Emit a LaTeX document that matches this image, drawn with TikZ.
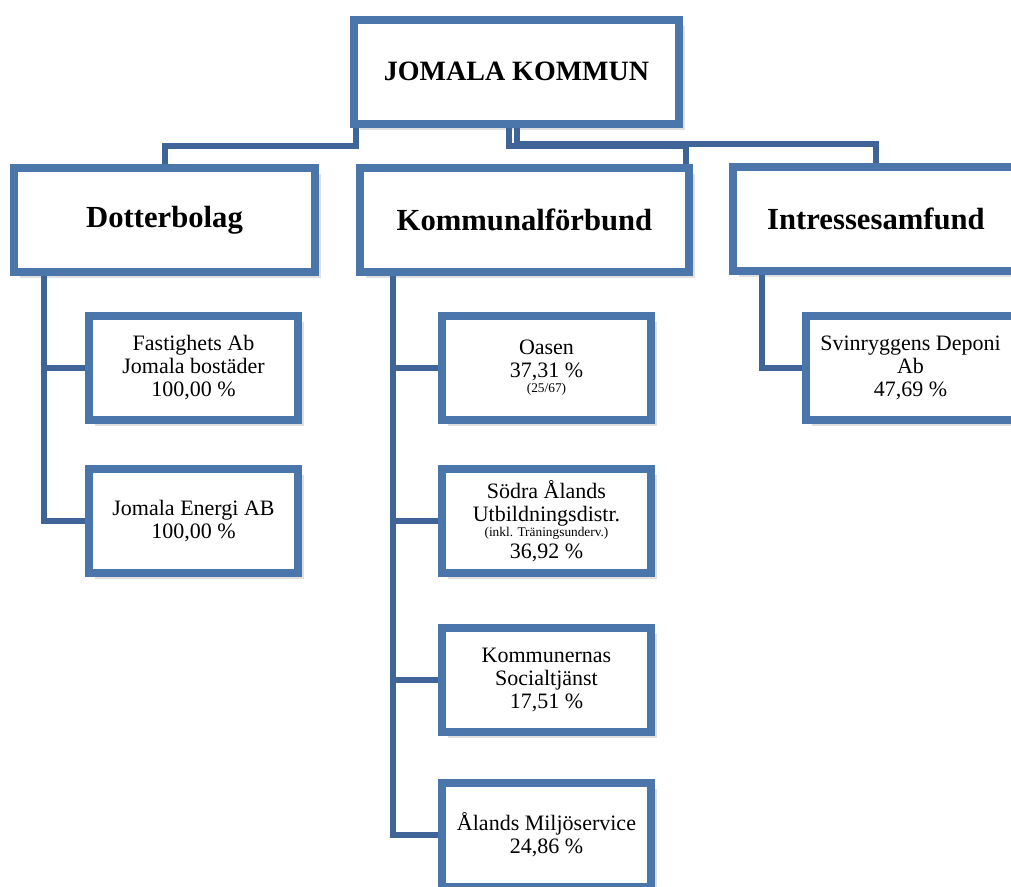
\documentclass[tikz,border=0pt]{standalone}
\usepackage{fontspec}
\setmainfont{Liberation Serif}
\usetikzlibrary{shadows}
\definecolor{boxblue}{RGB}{74,118,172}
\definecolor{lineblue}{RGB}{62,100,152}
\begin{document}
\begin{tikzpicture}[x=0.75pt,y=-0.75pt,
  orgbox/.style={rectangle,draw=boxblue,line width=6pt,fill=white,align=center,
    minimum height=78pt,inner sep=2pt,
    drop shadow={shadow xshift=4.5pt,shadow yshift=-4.5pt,fill=black!12,opacity=1}},
  headbox/.style={orgbox,font=\fontsize{23}{27}\selectfont\bfseries},
  unitbox/.style={orgbox,minimum width=156.75pt,font=\fontsize{16.5}{17.25}\selectfont},
  link/.style={draw=lineblue,line width=4.5pt,line join=miter}]
\useasboundingbox (0,0) rectangle (1011,886);
% top level
\node[headbox,minimum width=243.75pt,font=\fontsize{21}{25}\selectfont\bfseries] (root) at (516.5,71.7) {JOMALA KOMMUN};
% second level
\node[headbox,minimum width=225.75pt] (dotter) at (164.5,220) {Dotterbolag};
\node[headbox,minimum width=246.75pt] (kommunal) at (524.5,220) {Kommunalförbund};
\node[headbox,minimum width=214.5pt] (intresse) at (876,219) {Intressesamfund};
% dotterbolag
\node[unitbox] (fast) at (193.5,368) {Fastighets Ab\\Jomala bostäder\\100,00 \%};
\node[unitbox] (energi) at (193.5,521) {Jomala Energi AB\\100,00 \%};
% kommunalforbund
\node[unitbox] (oasen) at (546.5,368) {Oasen\\37,31 \%\\[-6pt]{\fontsize{10}{11}\selectfont (25/67)}};
\node[unitbox] (sodra) at (546.5,521) {Södra Ålands\\Utbildningsdistr.\\[-6pt]{\fontsize{10}{11}\selectfont (inkl. Träningsunderv.)}\\[-1pt]36,92 \%};
\node[unitbox] (ksf) at (546.5,680) {Kommunernas\\Socialtjänst\\17,51 \%};
\node[unitbox] (miljo) at (546.5,835) {Ålands Miljöservice\\24,86 \%};
% intressesamfund
\node[unitbox] (svin) at (910.5,368) {Svinryggens Deponi\\Ab\\47,69 \%};
% connectors
\draw[link] ([xshift=4.5pt]root.south west) -- ++(0,18) -| (dotter.north);
\draw[link] ([xshift=-6pt]root.south) -- ++(0,18) -| ([xshift=-5pt]kommunal.north east);
\draw[link] (root.south) -- ++(0,16) -| (intresse.north);
\foreach \n in {fast,energi}
  \draw[link] ([xshift=25.5pt]dotter.south west) |- (\n.west);
\foreach \n in {oasen,sodra,ksf,miljo}
  \draw[link] ([xshift=27.75pt]kommunal.south west) |- (\n.west);
\draw[link] ([xshift=24.75pt]intresse.south west) |- (svin.west);
\end{tikzpicture}
\end{document}
